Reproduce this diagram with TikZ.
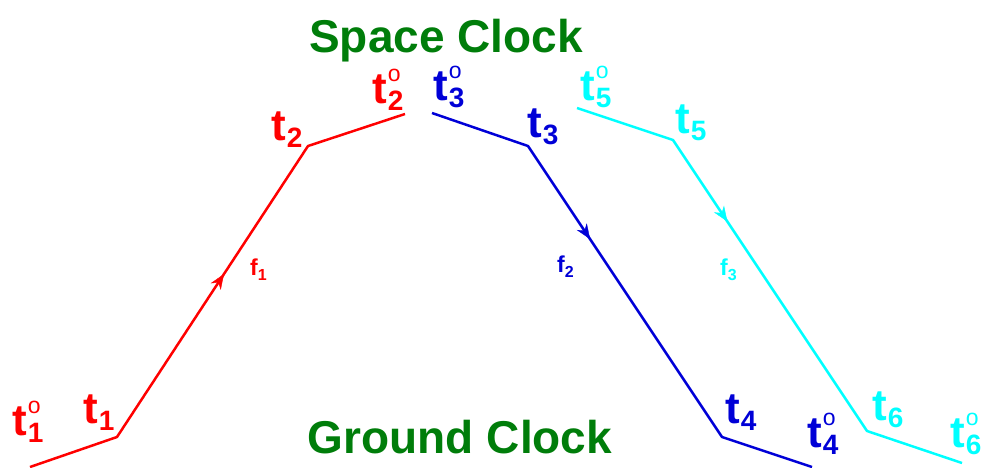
\documentclass[tikz,border=0pt]{standalone}
\usepackage{fontspec}
\setmainfont{Liberation Sans}
\usetikzlibrary{decorations.markings,arrows.meta}
\definecolor{myred}{RGB}{255,0,0}
\definecolor{myblue}{RGB}{0,0,215}
\definecolor{mycyan}{RGB}{0,255,255}
\definecolor{mygreen}{RGB}{0,125,10}
\newcommand{\tsym}[2]{\fontsize{44}{44}\selectfont t\kern1pt\makebox[0pt][l]{\raisebox{21.5pt}{\fontsize{23}{23}\mdseries\selectfont #2}}\raisebox{-7pt}{\fontsize{28}{28}\selectfont #1}}
\newcommand{\fsym}[1]{\fontsize{23}{23}\selectfont f\raisebox{-5pt}{\fontsize{16}{16}\selectfont #1}}
\tikzset{
  world/.style={line width=2.5pt, line join=round},
  tlab/.style={anchor=base west, inner sep=0pt, font=\bfseries},
  title/.style={anchor=base, inner sep=0pt, font=\bfseries\fontsize{46}{46}\selectfont, text=mygreen},
  midarrow/.style={postaction={decorate}, decoration={markings, mark=at position #1 with {\arrow{Stealth[length=15pt,width=12pt]}}}}
}
\begin{document}
\begin{tikzpicture}[x=1pt,y=-1pt]
\useasboundingbox (0,0) rectangle (986,467);
% titles
\node[title] (space) at (446,52) {Space Clock};
\node[title] (ground) at (460,453) {Ground Clock};
% red world line
\coordinate (r0) at (30,467);
\coordinate (r1) at (117,437);
\coordinate (r2) at (308,146);
\coordinate (r3) at (405,114);
\draw[world, myred] (r0) -- (r1) -- (r2) -- (r3);
\path[midarrow=0.56, myred] (r1) -- (r2);
% blue world line
\coordinate (b0) at (432,113);
\coordinate (b1) at (528,146);
\coordinate (b2) at (722,437);
\coordinate (b3) at (812,467);
\draw[world, myblue] (b0) -- (b1) -- (b2) -- (b3);
\path[midarrow=0.32, myblue] (b1) -- (b2);
% cyan world line
\coordinate (c0) at (577,108);
\coordinate (c1) at (673,140);
\coordinate (c2) at (867,431);
\coordinate (c3) at (962,463);
\draw[world, mycyan] (c0) -- (c1) -- (c2) -- (c3);
\path[midarrow=0.28, mycyan] (c1) -- (c2);
% labels
\node[tlab, text=myred] (t1o) at (12,435) {\tsym{1}{o}};
\node[tlab, text=myred] (t1) at (83,423) {\tsym{1}{}};
\node[tlab, text=myred] (t2) at (271,140) {\tsym{2}{}};
\node[tlab, text=myred] (t2o) at (372,103) {\tsym{2}{o}};
\node[tlab, text=myblue] (t3o) at (433,100) {\tsym{3}{o}};
\node[tlab, text=myblue] (t3) at (527,137) {\tsym{3}{}};
\node[tlab, text=myblue] (t4) at (725,423) {\tsym{4}{}};
\node[tlab, text=myblue] (t4o) at (807,447) {\tsym{4}{o}};
\node[tlab, text=mycyan] (t5o) at (580,100) {\tsym{5}{o}};
\node[tlab, text=mycyan] (t5) at (675,133) {\tsym{5}{}};
\node[tlab, text=mycyan] (t6) at (872,420) {\tsym{6}{}};
\node[tlab, text=mycyan] (t6o) at (950,447) {\tsym{6}{o}};
\node[tlab, text=myred] (f1) at (250,275) {\fsym{1}};
\node[tlab, text=myblue] (f2) at (557,272) {\fsym{2}};
\node[tlab, text=mycyan] (f3) at (720,275) {\fsym{3}};
\end{tikzpicture}
\end{document}
